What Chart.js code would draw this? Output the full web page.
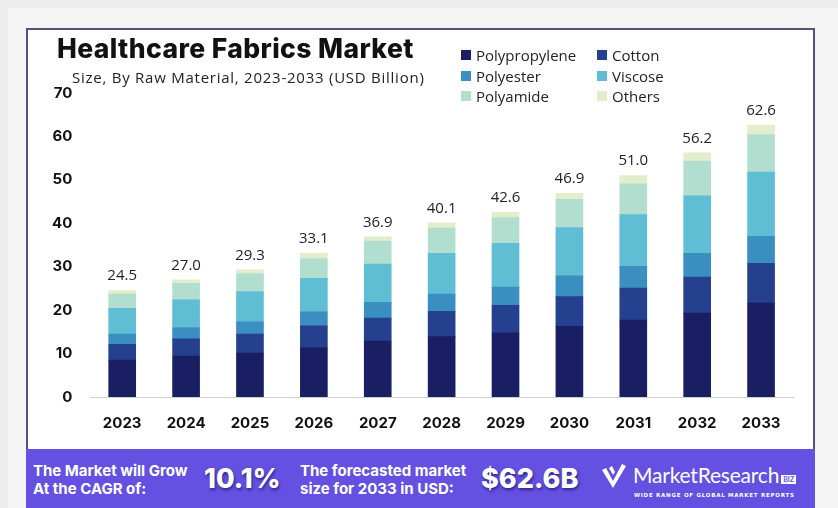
<!DOCTYPE html>
<html>
<head>
<meta charset="utf-8">
<script src="https://cdn.jsdelivr.net/npm/chart.js@4.4.0/dist/chart.umd.min.js"></script>
<style>
  html, body { margin: 0; padding: 0; }
  body { width: 838px; height: 508px; background: #ececec; position: relative; overflow: hidden; font-family: "Open Sans", sans-serif; }
  #frame { position: absolute; left: 8px; top: 8px; width: 830px; height: 500px; background: #f5f5f5; }
  #card { position: absolute; left: 26px; top: 28px; width: 785px; height: 422px; background: #fff; border: 2px solid #4f557a; border-bottom: none; }
  #chartBox { position: absolute; left: 26px; top: 28px; width: 787px; height: 422px; }
  #title { position: absolute; left: 57px; top: 32px; font-family: Inter, sans-serif; font-weight: 800; font-size: 26.5px; color: #111; letter-spacing: 0.4px; white-space: nowrap; }
  #subtitle { position: absolute; left: 72px; top: 67px; font-size: 15px; color: #222; letter-spacing: 0.75px; white-space: nowrap; }
  #legend { position: absolute; left: 461px; top: 46px; display: grid; grid-template-columns: 136px 120px; row-gap: 2px; }
  .item { display: flex; align-items: center; height: 18.5px; font-size: 15px; color: #222; }
  .sw { width: 10px; height: 10px; margin-right: 5px; }
  #banner { position: absolute; left: 26px; top: 449px; width: 789px; height: 59px; background: #6450e1; color: #fff; }
  .btxt { position: absolute; font-family: Inter, sans-serif; font-weight: 700; font-size: 15px; line-height: 18px; white-space: nowrap; }
  .big { position: absolute; font-family: Inter, sans-serif; font-weight: 800; font-size: 27px; text-shadow: 1px 2px 3px rgba(20,10,80,0.6); white-space: nowrap; }
  #mark { position: absolute; left: 574px; top: 13px; }
  #logo { position: absolute; left: 607px; top: 13px; font-size: 21px; line-height: 26px; font-family: Lato, sans-serif; font-weight: 400; white-space: nowrap; letter-spacing: -0.2px; }
  #tag { position: absolute; left: 608px; top: 43px; font-size: 5.5px; font-weight: 700; letter-spacing: 0.75px; font-family: "DejaVu Sans", sans-serif; white-space: nowrap; }
  #biz { display: inline-block; background: #fff; color: #6450e1; font-size: 7px; line-height: 9px; font-weight: 700; padding: 0 2px; vertical-align: 1px; margin-left: 2px; letter-spacing: 0; }
</style>
</head>
<body>
<div id="frame"></div>
<div id="card"></div>
<div id="chartBox"><canvas id="chart" width="787" height="422"></canvas></div>
<div id="title">Healthcare Fabrics Market</div>
<div id="subtitle">Size, By Raw Material, 2023-2033 (USD Billion)</div>
<div id="legend"></div>
<div id="banner">
  <div class="btxt" style="left:7px; top:13px;">The Market will Grow<br>At the CAGR of:</div>
  <div class="big" style="left:178px; top:13px;">10.1%</div>
  <div class="btxt" style="left:274px; top:13px;">The forecasted market<br>size for 2033 in USD:</div>
  <div class="big" style="left:455px; top:13px;">$62.6B</div>
  <svg id="mark" width="28" height="28" viewBox="0 0 28 28">
    <path d="M2 8 L6 6 L13 19 L22 2 L26 4 L13 26 Z" fill="#fff"/>
    <path d="M9 6 L12 4 L15 10 L13 13 Z" fill="#fff"/>
  </svg>
  <div id="logo">MarketResearch<span id="biz">BIZ</span></div>
  <div id="tag">WIDE RANGE OF GLOBAL MARKET REPORTS</div>
</div>
<script>
const years = ['2023', '2024', '2025', '2026', '2027', '2028', '2029', '2030', '2031', '2032', '2033'];
const totals = [24.5, 27.0, 29.3, 33.1, 36.9, 40.1, 42.6, 46.9, 51.0, 56.2, 62.6];

const polypropylene = [8.5, 9.4, 10.1, 11.3, 12.9, 13.9, 14.8, 16.3, 17.7, 19.3, 21.6];
const cotton        = [3.6, 4.0, 4.4, 5.1, 5.3, 5.8, 6.3, 6.8, 7.4, 8.3, 9.2];
const polyester     = [2.4, 2.6, 2.8, 3.2, 3.6, 4.0, 4.2, 4.8, 5.0, 5.5, 6.2];
const viscose       = [5.9, 6.4, 7.0, 7.7, 8.8, 9.4, 10.1, 11.1, 11.9, 13.2, 14.8];
const polyamide     = [3.3, 3.8, 4.1, 4.6, 5.3, 5.8, 5.9, 6.5, 7.1, 8.0, 8.6];
const others        = [0.8, 0.8, 0.9, 1.2, 1.0, 1.2, 1.3, 1.4, 1.9, 1.9, 2.2];

const yTicks = [0, 10, 20, 30, 40, 50, 60, 70];

const series = [
  { label: 'Polypropylene', data: polypropylene, color: '#1a1f63' },
  { label: 'Cotton', data: cotton, color: '#25408f' },
  { label: 'Polyester', data: polyester, color: '#3b8ec0' },
  { label: 'Viscose', data: viscose, color: '#5fbed3' },
  { label: 'Polyamide', data: polyamide, color: '#b2decf' },
  { label: 'Others', data: others, color: '#e0eecb' }
];

// legend in html, two columns like the original
const legend = document.getElementById('legend');
series.forEach(s => {
  const div = document.createElement('div');
  div.className = 'item';
  div.innerHTML = `<span class="sw" style="background:${s.color}"></span>${s.label}`;
  legend.appendChild(div);
});

const totalLabels = {
  id: 'totalLabels',
  afterDatasetsDraw(chart) {
    const ctx = chart.ctx;
    const meta = chart.getDatasetMeta(series.length - 1);
    ctx.save();
    ctx.font = '15px "Open Sans"';
    ctx.fillStyle = '#222';
    ctx.textAlign = 'center';
    ctx.textBaseline = 'bottom';
    meta.data.forEach((bar, i) => {
      ctx.fillText(totals[i].toFixed(1), bar.x, bar.y - 7);
    });
    ctx.restore();
  }
};

new Chart(document.getElementById('chart'), {
  type: 'bar',
  data: {
    labels: years,
    datasets: series.map(s => ({
      label: s.label,
      data: s.data,
      backgroundColor: s.color,
      borderWidth: 0,
      barThickness: 27
    }))
  },
  options: {
    responsive: false,
    animation: false,
    layout: { padding: { top: 65, left: 8, right: 20, bottom: 1 } },
    plugins: {
      legend: { display: false },
      tooltip: { enabled: false }
    },
    scales: {
      x: {
        stacked: true,
        grid: { display: false, drawTicks: false },
        border: { display: true, color: '#cfcfcf', width: 1 },
        ticks: { padding: 17, color: '#111', font: { family: 'Inter', weight: 'bold', size: 15 } }
      },
      y: {
        stacked: true,
        min: yTicks[0],
        max: yTicks[yTicks.length - 1],
        grid: { display: false, drawTicks: false },
        border: { display: false },
        afterBuildTicks: (scale) => { scale.ticks = yTicks.map(v => ({ value: v })); },
        ticks: { padding: 18, color: '#111', font: { family: 'Inter', weight: 'bold', size: 15 } }
      }
    }
  },
  plugins: [totalLabels]
});
</script>
</body>
</html>
